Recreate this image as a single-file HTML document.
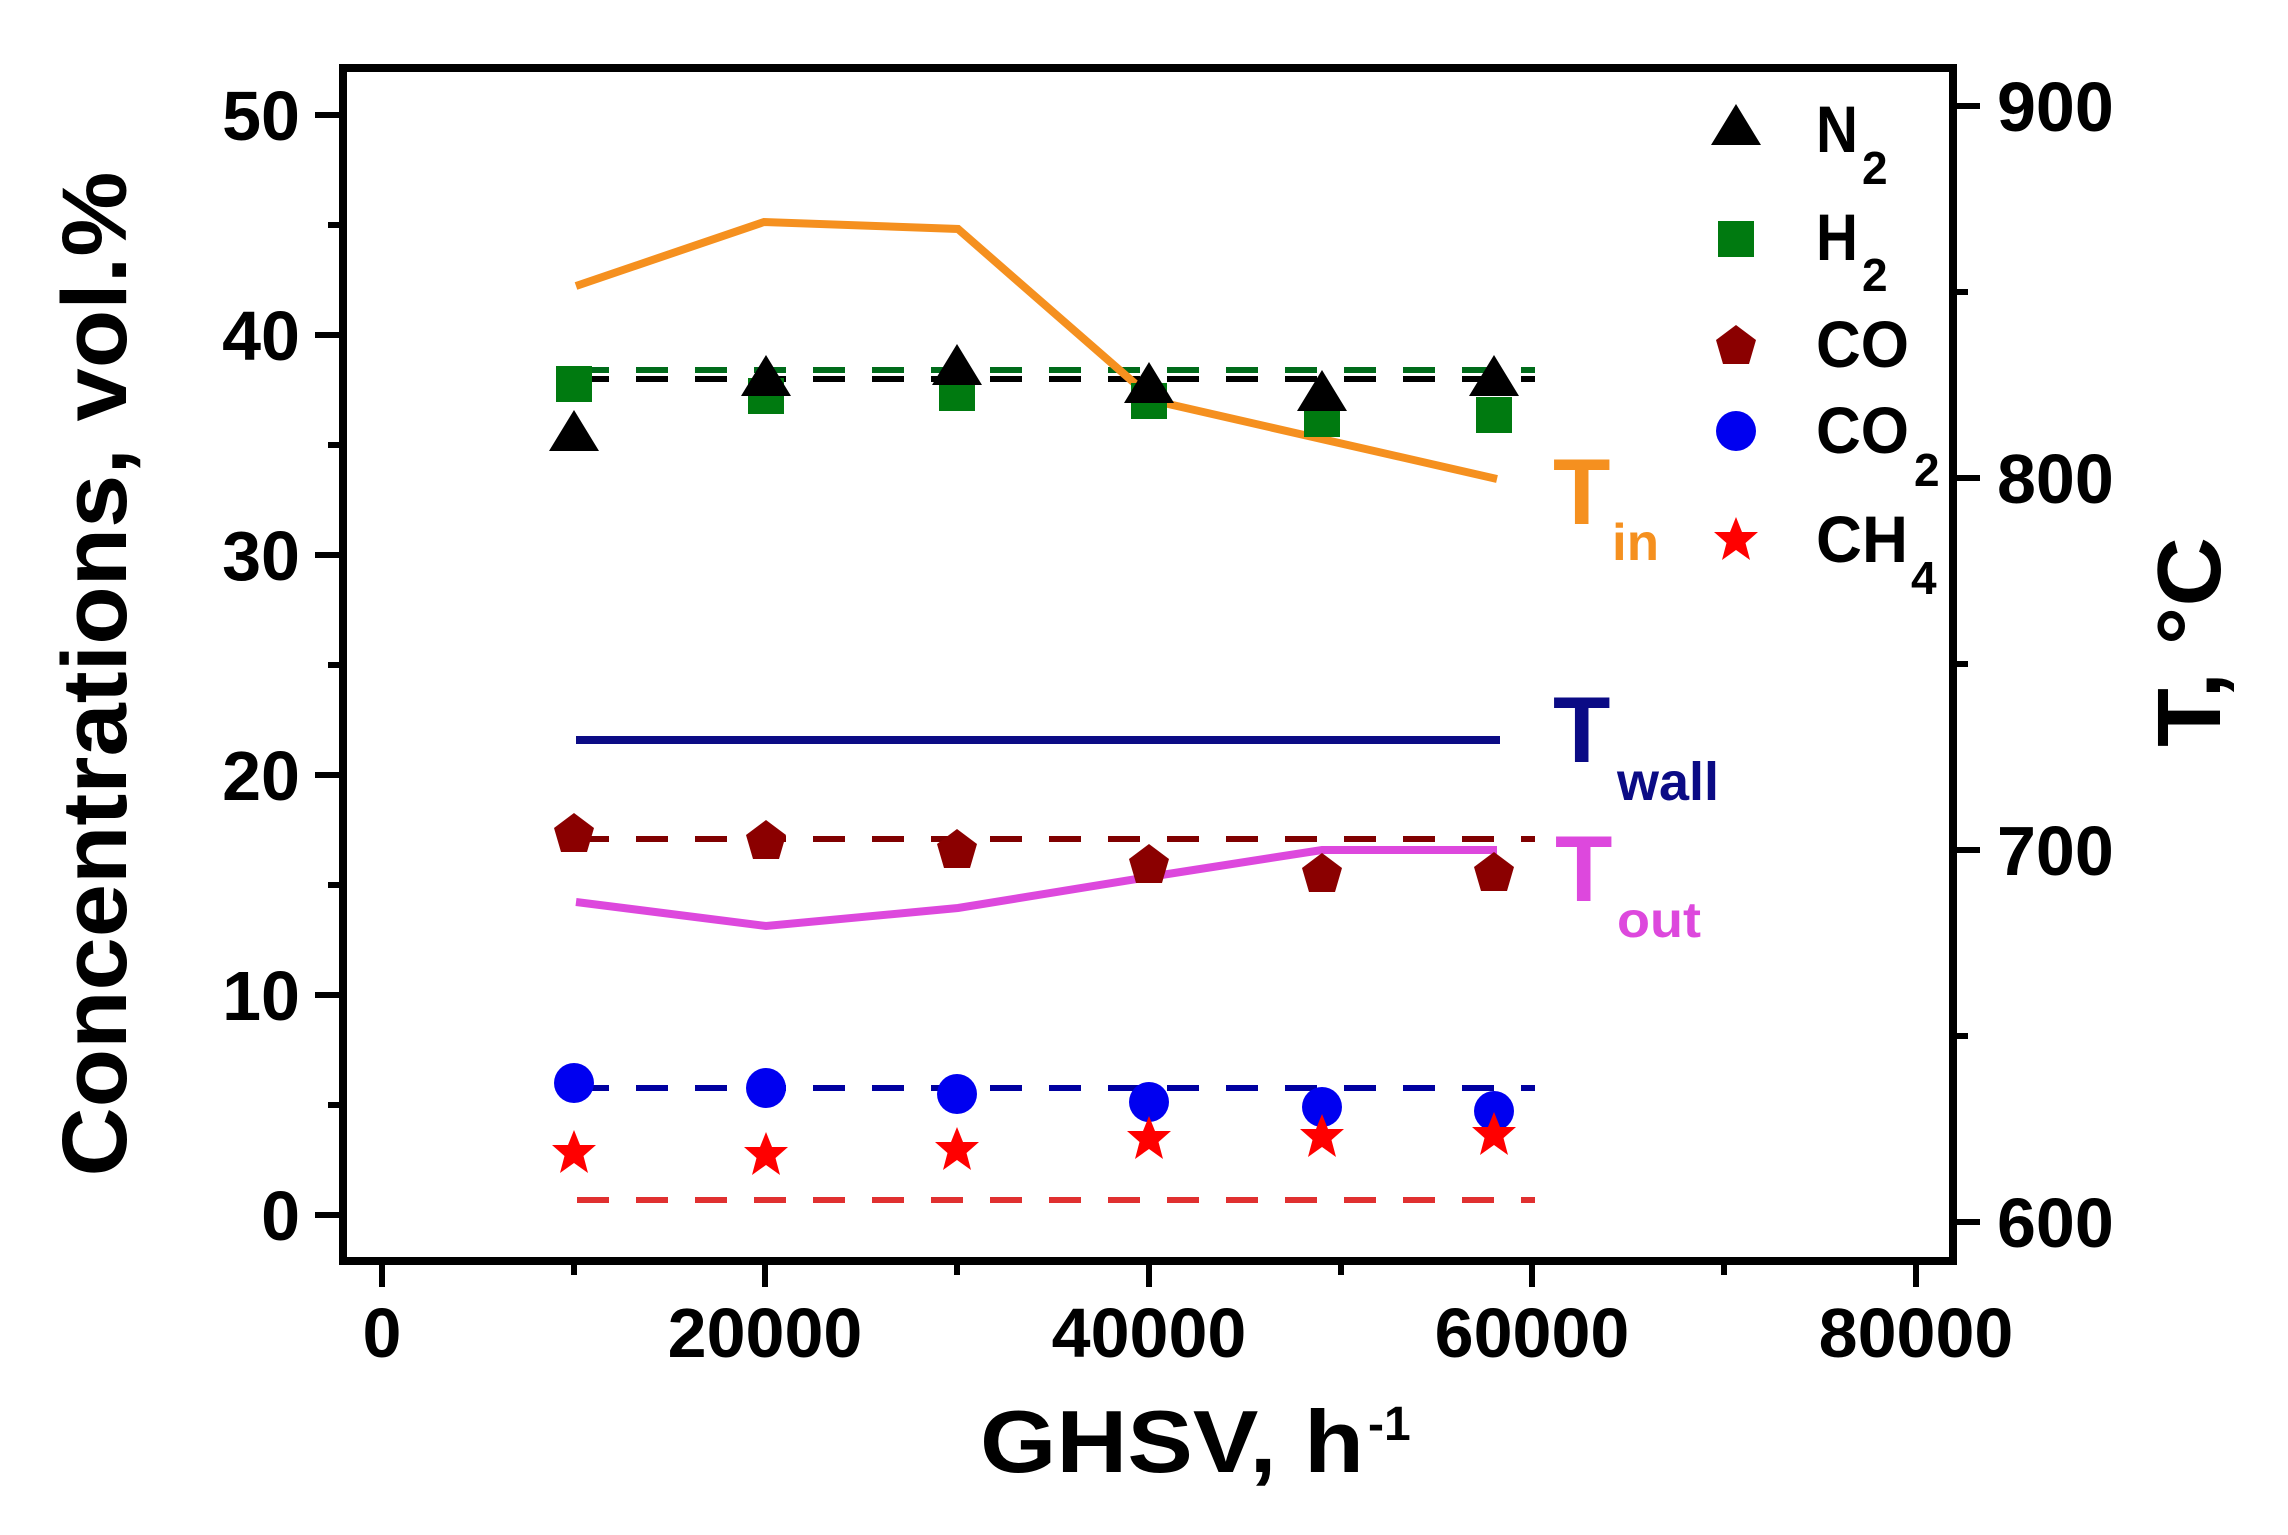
<!DOCTYPE html>
<html><head><meta charset="utf-8"><style>
html,body{margin:0;padding:0;background:#fff;}
svg{display:block;}
text{font-family:"Liberation Sans",Arial,sans-serif;font-weight:bold;}
</style></head><body>
<svg width="2288" height="1535" viewBox="0 0 2288 1535" xmlns="http://www.w3.org/2000/svg">
<rect width="2288" height="1535" fill="#fff"/>
<defs>
<polygon id="tri" points="0,-24 25,17 -25,17" fill="#000"/>
<rect id="sq" x="-18" y="-18" width="36" height="36" fill="#007a10"/>
<polygon id="pent" points="0,-21 20,-6 13,18 -13,18 -20,-6" fill="#8b0000"/>
<circle id="cir" r="20" fill="#0000f0"/>
<polygon id="star" points="0,-23 6,-8 22,-8 9.5,3 14,20 0,10 -14,20 -9.5,3 -22,-8 -6,-8" fill="#ff0000"/>
</defs>

<g stroke-width="6" stroke-dasharray="32,27" fill="none">
<line x1="577" y1="370" x2="1535" y2="370" stroke="#006b1a"/>
<line x1="577" y1="379" x2="1535" y2="379" stroke="#000"/>
<line x1="577" y1="839" x2="1535" y2="839" stroke="#800000"/>
<line x1="577" y1="1088" x2="1535" y2="1088" stroke="#0000a0"/>
<line x1="577" y1="1200" x2="1535" y2="1200" stroke="#e03030"/>
</g>

<polyline points="576,286 764,222 958,229 1155,401 1497,479" fill="none" stroke="#f5901f" stroke-width="8"/>
<line x1="576" y1="740" x2="1500" y2="740" stroke="#0b0b85" stroke-width="8"/>
<polyline points="576,902 766,926 958,908 1155,876 1322,850 1497,850" fill="none" stroke="#dd48dd" stroke-width="8"/>

<g>
<use href="#sq" x="574" y="384"/><use href="#sq" x="766" y="396"/><use href="#sq" x="957" y="393"/><use href="#sq" x="1149" y="401"/><use href="#sq" x="1322" y="419"/><use href="#sq" x="1494" y="415"/>
<use href="#tri" x="574" y="434"/><use href="#tri" x="766" y="379"/><use href="#tri" x="957" y="368"/><use href="#tri" x="1149" y="386"/><use href="#tri" x="1322" y="394"/><use href="#tri" x="1494" y="379"/>
<use href="#pent" x="574" y="834"/><use href="#pent" x="766" y="841"/><use href="#pent" x="957" y="850"/><use href="#pent" x="1149" y="865"/><use href="#pent" x="1322" y="874"/><use href="#pent" x="1494" y="873"/>
<use href="#cir" x="574" y="1083"/><use href="#cir" x="766" y="1088"/><use href="#cir" x="957" y="1094"/><use href="#cir" x="1149" y="1102"/><use href="#cir" x="1322" y="1107"/><use href="#cir" x="1494" y="1111"/>
<use href="#star" x="574" y="1153"/><use href="#star" x="766" y="1155"/><use href="#star" x="957" y="1150"/><use href="#star" x="1149" y="1139"/><use href="#star" x="1322" y="1137"/><use href="#star" x="1494" y="1135"/>
</g>

<rect x="343" y="68" width="1610" height="1193" fill="none" stroke="#000" stroke-width="8"/>
<g stroke="#000" stroke-width="6">
<line x1="315" y1="1215" x2="343" y2="1215"/><line x1="315" y1="995" x2="343" y2="995"/><line x1="315" y1="775" x2="343" y2="775"/><line x1="315" y1="555" x2="343" y2="555"/><line x1="315" y1="335" x2="343" y2="335"/><line x1="315" y1="115" x2="343" y2="115"/>
<line x1="328" y1="1105" x2="343" y2="1105"/><line x1="328" y1="885" x2="343" y2="885"/><line x1="328" y1="665" x2="343" y2="665"/><line x1="328" y1="445" x2="343" y2="445"/><line x1="328" y1="225" x2="343" y2="225"/>
<line x1="1953" y1="106" x2="1980" y2="106"/><line x1="1953" y1="478" x2="1980" y2="478"/><line x1="1953" y1="850" x2="1980" y2="850"/><line x1="1953" y1="1222" x2="1980" y2="1222"/>
<line x1="1953" y1="292" x2="1968" y2="292"/><line x1="1953" y1="664" x2="1968" y2="664"/><line x1="1953" y1="1036" x2="1968" y2="1036"/>
<line x1="382" y1="1261" x2="382" y2="1287"/><line x1="765" y1="1261" x2="765" y2="1287"/><line x1="1149" y1="1261" x2="1149" y2="1287"/><line x1="1532" y1="1261" x2="1532" y2="1287"/><line x1="1916" y1="1261" x2="1916" y2="1287"/>
<line x1="574" y1="1261" x2="574" y2="1275"/><line x1="957" y1="1261" x2="957" y2="1275"/><line x1="1341" y1="1261" x2="1341" y2="1275"/><line x1="1724" y1="1261" x2="1724" y2="1275"/>
</g>

<g font-size="70" fill="#000" text-anchor="end">
<text x="300" y="1240">0</text><text x="300" y="1020">10</text><text x="300" y="800">20</text><text x="300" y="580">30</text><text x="300" y="360">40</text><text x="300" y="140">50</text>
</g>
<g font-size="70" fill="#000">
<text x="1997" y="131">900</text><text x="1997" y="503">800</text><text x="1997" y="875">700</text><text x="1997" y="1247">600</text>
</g>
<g font-size="70" fill="#000" text-anchor="middle">
<text x="382" y="1357">0</text><text x="765" y="1357">20000</text><text x="1149" y="1357">40000</text><text x="1532" y="1357">60000</text><text x="1916" y="1357">80000</text>
</g>

<text transform="translate(126,674) rotate(-90)" font-size="92" text-anchor="middle" textLength="1005" lengthAdjust="spacingAndGlyphs">Concentrations, vol.%</text>
<text x="980" y="1472" font-size="88" textLength="384" lengthAdjust="spacingAndGlyphs">GHSV, h</text>
<text x="1368" y="1440" font-size="48">-1</text>
<text transform="translate(2220,642) rotate(-90)" font-size="90" text-anchor="middle" textLength="210" lengthAdjust="spacingAndGlyphs">T, °C</text>

<use href="#tri" x="1736" y="128"/>
<use href="#sq" x="1736" y="239"/>
<use href="#pent" x="1736" y="346"/>
<use href="#cir" x="1736" y="431"/>
<use href="#star" x="1736" y="540"/>
<g font-size="66" fill="#000">
<text x="1816" y="152" textLength="42" lengthAdjust="spacingAndGlyphs">N</text><text x="1862" y="184" font-size="46">2</text>
<text x="1816" y="260" textLength="42" lengthAdjust="spacingAndGlyphs">H</text><text x="1862" y="291" font-size="46">2</text>
<text x="1816" y="367" textLength="93" lengthAdjust="spacingAndGlyphs">CO</text>
<text x="1816" y="453" textLength="93" lengthAdjust="spacingAndGlyphs">CO</text><text x="1914" y="486" font-size="46">2</text>
<text x="1816" y="562" textLength="92" lengthAdjust="spacingAndGlyphs">CH</text><text x="1911" y="594" font-size="46">4</text>
</g>

<g fill="#f5901f"><text x="1553" y="524" font-size="94">T</text><text x="1612" y="560" font-size="52" textLength="47" lengthAdjust="spacingAndGlyphs">in</text></g>
<g fill="#0b0b85"><text x="1553" y="762" font-size="94">T</text><text x="1617" y="800" font-size="54" textLength="102" lengthAdjust="spacingAndGlyphs">wall</text></g>
<g fill="#dd48dd"><text x="1555" y="901" font-size="94">T</text><text x="1617" y="937" font-size="50" textLength="84" lengthAdjust="spacingAndGlyphs">out</text></g>
</svg>
</body></html>
